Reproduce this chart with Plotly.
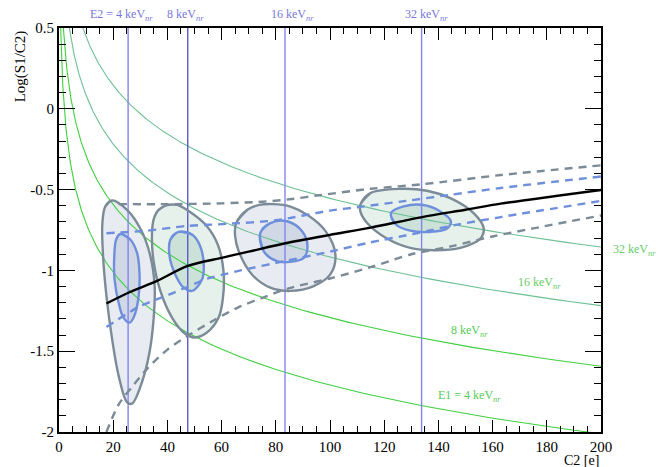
import numpy as np
import plotly.graph_objects as go

# ---------------- data ----------------
x_tickvals = [0, 20, 40, 60, 80, 100, 120, 140, 160, 180, 200]
y_tickvals = [0.5, 0, -0.5, -1, -1.5, -2]
y_ticktext = ["0.5", "0", "-0.5", "-1", "-1.5", "-2"]

# vertical iso-E2 lines (C2 position)
E2_labels = ["E2 = 4 keV", "8 keV", "16 keV", "32 keV"]
E2_C2 = [25.5, 47.5, 83.4, 133.8]

# iso-E1 curves (constant S1): log(S1/C2)
E1_labels = ["E1 = 4 keV", "8 keV", "16 keV", "32 keV"]
E1_S1 = [1.95, 5.1, 12.1, 27.9]

# mean band centre (black)
mean_C2 = [17.5, 26, 36, 47.5, 60, 70, 83.5, 100, 115, 134, 150, 163, 200]
mean_log = [-1.205, -1.135, -1.066, -0.972, -0.922, -0.884, -0.832, -0.78, -0.735, -0.670, -0.625, -0.587, -0.502]

# inner band edges (blue dashed)
band1_up_C2 = [17.5, 32, 47, 62, 80, 100, 112, 128, 144, 163, 200]
band1_up_log = [-0.77, -0.755, -0.725, -0.712, -0.69, -0.63, -0.605, -0.57, -0.533, -0.49, -0.419]
band1_lo_C2 = [17.5, 30, 36, 42, 55, 62, 67, 84, 101, 114, 132, 146, 163, 200]
band1_lo_log = [-1.35, -1.22, -1.18, -1.14, -1.05, -1.02, -1.0, -0.94, -0.88, -0.83, -0.77, -0.72, -0.67, -0.57]

# outer band edges (grey dashed)
band2_up_C2 = [22, 40, 60, 75, 85, 96, 115, 134, 163, 200]
band2_up_log = [-0.59, -0.59, -0.585, -0.575, -0.56, -0.535, -0.495, -0.467, -0.41, -0.35]
band2_lo_C2 = [17.5, 22, 27, 33, 40, 48, 57, 66, 75, 85, 100, 115, 130, 145, 160, 175, 200]
band2_lo_log = [-2.0, -1.83, -1.72, -1.60, -1.49, -1.40, -1.31, -1.23, -1.17, -1.11, -1.05, -0.98, -0.90, -0.85, -0.79, -0.74, -0.66]

# population contours (outer = grey, inner = blue), points (C2, log)
outer_4 = [(19.6, -0.567), (25.1, -0.625), (30.3, -0.75), (33.7, -0.91), (35.3, -1.097), (34.9, -1.302),
           (33.4, -1.507), (30.6, -1.692), (26.9, -1.825), (25.1, -1.815), (22.0, -1.651), (19.6, -1.425),
           (17.5, -1.158), (16.2, -0.892), (16.0, -0.71), (17.1, -0.604)]
inner_4 = [(22.6, -0.775), (26.3, -0.809), (28.8, -0.892), (29.7, -1.015), (29.4, -1.158), (27.8, -1.281),
           (26.1, -1.323), (23.8, -1.292), (22.0, -1.200), (20.5, -1.055), (20.4, -0.912), (21.1, -0.809)]
outer_8 = [(36.5, -0.63), (39.5, -0.598), (43.5, -0.595), (48.5, -0.64), (54.5, -0.725), (58.7, -0.845),
           (60.7, -1.004), (60.5, -1.169), (58.9, -1.292), (54.6, -1.384), (49.7, -1.415), (46.0, -1.384),
           (41.7, -1.292), (37.4, -1.127), (34.9, -0.943), (34.3, -0.778), (35.0, -0.68)]
inner_8 = [(44.1, -0.762), (49.1, -0.778), (52.1, -0.850), (53.4, -0.963), (52.8, -1.055), (49.1, -1.127),
           (46.0, -1.107), (42.9, -1.025), (40.8, -0.912), (41.1, -0.809)]
outer_16 = [(65.3, -0.71), (69.5, -0.625), (74.0, -0.595), (79.0, -0.59), (85.4, -0.605), (92.0, -0.66),
            (98.5, -0.76), (102.0, -0.902), (100.1, -1.025), (94.0, -1.097), (85.4, -1.127), (78.0, -1.107),
            (71.2, -1.025), (66.3, -0.881), (65.0, -0.79)]
inner_16 = [(74.3, -0.768), (78.0, -0.707), (84.1, -0.696), (89.7, -0.758), (91.7, -0.850), (90.3, -0.922),
            (85.4, -0.947), (80.4, -0.943), (75.5, -0.881)]
outer_32 = [(111.2, -0.594), (114.9, -0.522), (126.0, -0.495), (135.8, -0.507), (144.4, -0.553), (153.0, -0.645),
            (156.7, -0.738), (155.5, -0.803), (148.1, -0.861), (138.2, -0.875), (129.6, -0.861), (121.0, -0.803),
            (113.7, -0.707), (111.2, -0.635)]
inner_32 = [(122.5, -0.645), (127.2, -0.604), (133.9, -0.594), (140.7, -0.635), (144.6, -0.696), (143.2, -0.741),
            (137.0, -0.762), (129.6, -0.754), (124.1, -0.713)]

clusters = [(outer_4, inner_4, "blue"), (outer_8, inner_8, "green"),
            (outer_16, inner_16, "blue"), (outer_32, inner_32, "green")]

# ---------------- styles ----------------
SERIF = "Liberation Serif"
GREY = "#7b8b97"
BLUE = "#6f8fdc"
FILL_OUT = {"blue": "rgba(150,168,195,0.22)", "green": "rgba(150,196,176,0.24)"}
FILL_IN = {"blue": "rgba(150,168,195,0.30)", "green": "rgba(150,196,176,0.32)"}
VCOL = ["#8484ee", "#5c5cc8", "#8484ee", "#8484ee"]
GCOL = ["#3fcf3f", "#3fcf3f", "#6cc093", "#6cc093"]
TXT_G = ["#55cc55", "#55cc55", "#66cc66", "#66cc66"]

fig = go.Figure()


def closed(pts):
    xs = [p[0] for p in pts] + [pts[0][0]]
    ys = [p[1] for p in pts] + [pts[0][1]]
    return xs, ys


def wrapped(pts):
    # walk the loop one extra step at both ends so the spline has no corner at the seam
    seq = [pts[-1]] + list(pts) + [pts[0], pts[1]]
    return [p[0] for p in seq], [p[1] for p in seq]


# cloud (filled contours)
for outer, inner, kind in clusters:
    xs, ys = closed(outer)
    fig.add_trace(go.Scatter(x=xs, y=ys, mode="lines", fill="toself", fillcolor=FILL_OUT[kind],
                             line=dict(width=0, shape="spline", smoothing=1.0), hoverinfo="skip"))
    xs, ys = closed(inner)
    fig.add_trace(go.Scatter(x=xs, y=ys, mode="lines", fill="toself", fillcolor=FILL_IN[kind],
                             line=dict(width=0, shape="spline", smoothing=1.0), hoverinfo="skip"))

# iso-E1 curves
for s1, col in zip(E1_S1, GCOL):
    c2 = np.geomspace(s1 / 10 ** 0.5, 200, 200)
    fig.add_trace(go.Scatter(x=c2, y=np.log10(s1 / c2), mode="lines",
                             line=dict(color=col, width=1.1), hoverinfo="skip"))

# iso-E2 vertical lines
for c2, col in zip(E2_C2, VCOL):
    fig.add_trace(go.Scatter(x=[c2, c2], y=[-2, 0.5], mode="lines",
                             line=dict(color=col, width=1.4), hoverinfo="skip"))

# contour lines
for outer, inner, kind in clusters:
    xs, ys = wrapped(outer)
    fig.add_trace(go.Scatter(x=xs, y=ys, mode="lines",
                             line=dict(color=GREY, width=2.4, shape="spline", smoothing=1.0), hoverinfo="skip"))
    xs, ys = wrapped(inner)
    fig.add_trace(go.Scatter(x=xs, y=ys, mode="lines",
                             line=dict(color=BLUE, width=2.4, shape="spline", smoothing=1.0), hoverinfo="skip"))

# band lines
DASH = "8px,6px"
for xs, ys, col in [(band2_up_C2, band2_up_log, GREY), (band2_lo_C2, band2_lo_log, GREY),
                    (band1_up_C2, band1_up_log, BLUE), (band1_lo_C2, band1_lo_log, BLUE)]:
    fig.add_trace(go.Scatter(x=xs, y=ys, mode="lines",
                             line=dict(color=col, width=2.4, dash=DASH, shape="spline", smoothing=0.8),
                             hoverinfo="skip"))

fig.add_trace(go.Scatter(x=mean_C2, y=mean_log, mode="lines",
                         line=dict(color="black", width=2.4, shape="spline", smoothing=0.8), hoverinfo="skip"))

# ---------------- annotations ----------------
ann = []
top_x = [23.2, 46.6, 86.1, 135.5]
for lab, xx in zip(E2_labels, top_x):
    ann.append(dict(x=xx, xref="x", y=1.031, yref="paper", xanchor="center", yanchor="middle",
                    showarrow=False, text=lab + "<sub><i>nr</i></sub>",
                    font=dict(family=SERIF, size=12, color="#7777dd")))
# right-hand labels in paper coordinates
right_pos = [(0.757, 0.090), (0.758, 0.250), (0.887, 0.370), (1.061, 0.450)]
for lab, (xx, yy), col in zip(E1_labels, right_pos, TXT_G):
    ann.append(dict(x=xx, xref="paper", y=yy, yref="paper", xanchor="center", yanchor="middle",
                    showarrow=False, text=lab + "<sub><i>nr</i></sub>",
                    font=dict(family=SERIF, size=12, color=col)))
ann.append(dict(x=-0.072, xref="paper", y=0.905, yref="paper", xanchor="center", yanchor="middle",
                showarrow=False, textangle=-90,
                text="Log(S1/C2)", font=dict(family=SERIF, size=15, color="black")))
ann.append(dict(x=1.0, xref="paper", y=-0.071, yref="paper", xanchor="right", yanchor="middle",
                showarrow=False, text="C2 [e]", font=dict(family=SERIF, size=14, color="black")))

axis_common = dict(showgrid=False, zeroline=False, showline=True, linecolor="black", linewidth=2,
                   mirror="allticks", ticks="inside", tickcolor="black", tickwidth=1,
                   tickfont=dict(family=SERIF, size=15, color="black"))

# page body has an 8px margin, so margins are shifted to keep the plot frame in place
fig.update_layout(
    width=667, height=467,
    margin=dict(l=51, r=74, t=18, b=43),
    paper_bgcolor="white", plot_bgcolor="white",
    showlegend=False,
    annotations=ann,
    xaxis=dict(range=[0, 200], tickvals=x_tickvals, ticklen=12,
               minor=dict(ticks="inside", dtick=5, ticklen=6, tickcolor="black", tickwidth=1),
               **axis_common),
    yaxis=dict(range=[-2, 0.5], tickvals=y_tickvals, ticktext=y_ticktext, ticklen=16,
               minor=dict(ticks="inside", dtick=0.1, ticklen=7, tickcolor="black", tickwidth=1),
               **axis_common),
)

fig.write_html("out.html")
